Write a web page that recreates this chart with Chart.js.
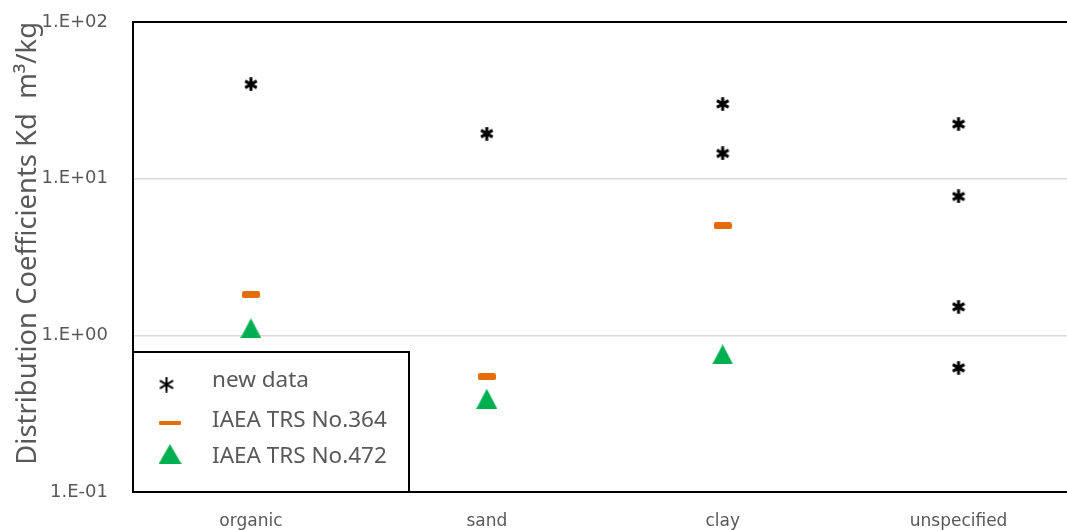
<!DOCTYPE html>
<html>
<head>
<meta charset="utf-8">
<script src="https://cdn.jsdelivr.net/npm/chart.js@4.4.0/dist/chart.umd.min.js"></script>
<style>
  html, body { margin: 0; padding: 0; background: #fff; overflow: hidden; }
  #wrap { width: 1100px; height: 530px; }
  #kd { display: block; width: 1100px; height: 530px; }
</style>
</head>
<body>
<div id="wrap"><canvas id="kd" width="1100" height="530"></canvas></div>
<script>
// Soil categories on the x axis
const categories = ['organic', 'sand', 'clay', 'unspecified'];

// New measurements: soil type and Kd (m3/kg) for each point
const newDataSoil = ['organic', 'sand', 'clay', 'clay', 'unspecified', 'unspecified', 'unspecified', 'unspecified'];
const newDataKd = [40, 19.4, 30, 14.5, 22.3, 7.7, 1.52, 0.62];

// Reference values per category (no value for "unspecified")
const trs364Kd = [1.82, 0.544, 5.0, null];
const trs472Kd = [1.11, 0.394, 0.755, null];

// Log axis decades and their labels
const yTickValues = [0.1, 1, 10, 100];
const yTickLabels = ['1.E-01', '1.E+00', '1.E+01', '1.E+02'];

const seriesNames = ['new data', 'IAEA TRS No.364', 'IAEA TRS No.472'];

const ORANGE = '#E46C0A';
const GREEN = '#00B050';
const TEXT_GREY = '#595959';

// ---- marker images ----
function makeCanvas(w, h, draw) {
  const c = document.createElement('canvas');
  c.width = w; c.height = h;
  draw(c.getContext('2d'), w, h);
  return c;
}
function asterisk(size, lw) {
  return makeCanvas(size, size, (g, w, h) => {
    g.strokeStyle = '#000';
    g.lineWidth = lw;
    const cx = w / 2, cy = h / 2, r = size / 2 - 0.3;
    g.beginPath();
    for (let k = 0; k < 3; k++) {
      const a = Math.PI / 2 + k * Math.PI / 3;
      g.moveTo(cx + r * Math.cos(a), cy + r * Math.sin(a));
      g.lineTo(cx - r * Math.cos(a), cy - r * Math.sin(a));
    }
    g.stroke();
  });
}
function roundedBar(w, h, r, color) {
  return makeCanvas(w, h, (g) => {
    g.fillStyle = color;
    g.beginPath();
    g.moveTo(r, 0);
    g.lineTo(w - r, 0); g.arcTo(w, 0, w, r, r);
    g.lineTo(w, h - r); g.arcTo(w, h, w - r, h, r);
    g.lineTo(r, h); g.arcTo(0, h, 0, h - r, r);
    g.lineTo(0, r); g.arcTo(0, 0, r, 0, r);
    g.closePath();
    g.fill();
  });
}
function triangle(w, h, color) {
  return makeCanvas(w, h, (g) => {
    g.fillStyle = color;
    g.beginPath();
    g.moveTo(w / 2, 0); g.lineTo(w, h); g.lineTo(0, h);
    g.closePath();
    g.fill();
  });
}

const starMark = asterisk(14, 3);
const dashMark = roundedBar(18, 7, 2, ORANGE);
const triMark = triangle(21, 20, GREEN);

const legendIcons = [asterisk(16, 2), roundedBar(22, 4, 1, ORANGE), triangle(23, 20, GREEN)];

// Plot frame drawn over the grid
const framePlugin = {
  id: 'frame',
  beforeDatasetsDraw(chart) {
    const { ctx, chartArea: a } = chart;
    ctx.save();
    ctx.strokeStyle = '#000';
    ctx.lineWidth = 2;
    ctx.strokeRect(a.left, a.top, a.right - a.left, a.bottom - a.top);
    ctx.restore();
  }
};

// Boxed legend in the lower-left corner of the plot
const boxLegendPlugin = {
  id: 'boxLegend',
  afterDatasetsDraw(chart) {
    const { ctx, chartArea: a } = chart;
    const x0 = a.left, w = 276, h = 140;
    const y0 = a.bottom - h;
    ctx.save();
    ctx.fillStyle = '#fff';
    ctx.fillRect(x0, y0, w, h);
    ctx.strokeStyle = '#000';
    ctx.lineWidth = 2;
    ctx.strokeRect(x0, y0, w, h);
    ctx.font = '22.5px "Noto Sans"';
    ctx.fillStyle = TEXT_GREY;
    ctx.textBaseline = 'middle';
    ctx.textAlign = 'left';
    const rowY = [29, 68.5, 105];
    const iconX = [33.5, 37, 37];
    const iconY = [32.5, 70.7, 102];
    seriesNames.forEach((name, i) => {
      const img = legendIcons[i];
      ctx.drawImage(img, x0 + iconX[i] - img.width / 2, y0 + iconY[i] - img.height / 2);
      ctx.fillText(name, x0 + 79, y0 + rowY[i]);
    });
    ctx.restore();
  }
};

new Chart(document.getElementById('kd'), {
  type: 'line',
  data: {
    labels: categories,
    datasets: [
      {
        label: seriesNames[0],
        data: newDataKd.map((v, i) => ({ x: newDataSoil[i], y: v })),
        pointStyle: starMark,
        showLine: false,
        pointRadius: 7,
        pointHoverRadius: 7
      },
      {
        label: seriesNames[1],
        data: trs364Kd,
        pointStyle: dashMark,
        showLine: false,
        pointRadius: 8,
        pointHoverRadius: 8
      },
      {
        label: seriesNames[2],
        data: trs472Kd,
        pointStyle: triMark,
        showLine: false,
        pointRadius: 10,
        pointHoverRadius: 10
      }
    ]
  },
  options: {
    responsive: false,
    animation: false,
    layout: { padding: { top: 22, right: 23.5, bottom: 0, left: 0 } },
    plugins: {
      legend: { display: false },
      tooltip: { enabled: false }
    },
    scales: {
      x: {
        type: 'category',
        offset: true,
        grid: { display: false, drawTicks: false },
        border: { display: false },
        ticks: {
          color: TEXT_GREY,
          font: { family: '"DejaVu Sans"', size: 17 },
          padding: 19
        },
        afterFit(s) { s.height = 38; s.paddingLeft = 0; s.paddingRight = 0; }
      },
      y: {
        type: 'logarithmic',
        min: 0.1,
        max: 100,
        afterBuildTicks(s) { s.ticks = yTickValues.map(v => ({ value: v })); },
        grid: {
          drawTicks: false,
          color: (c) => (c.tick && (c.tick.value === 1 || c.tick.value === 10)) ? '#D9D9D9' : 'rgba(0,0,0,0)',
          lineWidth: 1.5
        },
        border: { display: false },
        ticks: {
          color: TEXT_GREY,
          font: { family: '"DejaVu Sans"', size: 18 },
          padding: 25,
          callback: (v, i) => yTickLabels[i]
        },
        title: {
          display: true,
          text: 'Distribution Coefficients Kd  m³/kg',
          color: TEXT_GREY,
          font: { family: '"Noto Sans"', size: 27.4 },
          align: 'end',
          padding: { top: 12, bottom: 0 }
        },
        afterFit(s) { s.width = 133; s.paddingTop = 0; s.paddingBottom = 0; }
      }
    }
  },
  plugins: [framePlugin, boxLegendPlugin]
});
</script>
</body>
</html>
